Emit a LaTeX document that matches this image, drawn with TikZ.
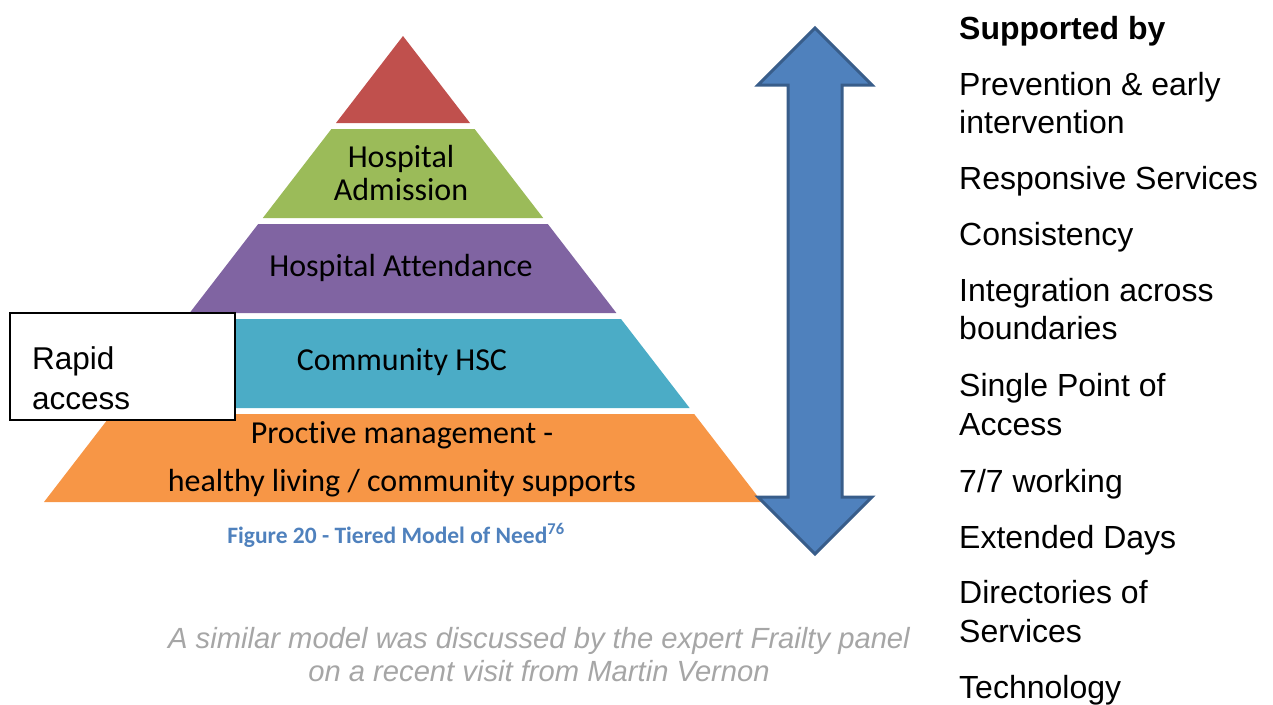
\documentclass[tikz,border=0pt]{standalone}
\usepackage{fontspec}
\setmainfont{Liberation Sans}
\newfontfamily\calibri[Ligatures=NoCommon]{Carlito}
\definecolor{tred}{HTML}{C0504D}
\definecolor{tgreen}{HTML}{9BBB59}
\definecolor{tpurple}{HTML}{8064A2}
\definecolor{tteal}{HTML}{4BACC6}
\definecolor{torange}{HTML}{F79646}
\definecolor{arrfill}{HTML}{4F81BD}
\definecolor{arrline}{HTML}{385D8A}
\definecolor{capblue}{HTML}{4F81BD}
\definecolor{notegray}{HTML}{A6A6A6}
\begin{document}
\begin{tikzpicture}[x=1pt,y=-1pt,
  tiertext/.style={font=\calibri\fontsize{32}{33}\selectfont, text=black, inner sep=0pt, align=center},
  sidetext/.style={font=\fontsize{32}{38}\selectfont, anchor=base west, inner sep=0pt},
  boxtext/.style={font=\fontsize{31.5}{40}\selectfont, anchor=base west, inner sep=0pt}]
\useasboundingbox (0,0) rectangle (1273,704);
% pyramid tiers
\fill[tred] (403,36) -- (470,123) -- (336,123) -- cycle;
\fill[tgreen] (331.4,129) -- (474.6,129) -- (543.2,218) -- (262.8,218) -- cycle;
\fill[tpurple] (258.2,224) -- (547.8,224) -- (616.4,313) -- (189.6,313) -- cycle;
\fill[tteal] (185,319) -- (621,319) -- (689.6,408) -- (116.4,408) -- cycle;
\fill[torange] (111.8,414) -- (694.2,414) -- (762,502) -- (44,502) -- cycle;
% tier labels
\node[tiertext] (adm) at (401,173) {Hospital\\Admission};
\node[tiertext] (att) at (401,268) {Hospital Attendance};
\node[tiertext] (hsc) at (402,362) {Community HSC};
\node[tiertext] (pro) at (402,435) {Proctive management -};
\node[tiertext] (liv) at (402,483) {healthy living / community supports};
% rapid access box
\node[draw=black, line width=1.5pt, fill=white, minimum width=225pt, minimum height=107pt, inner sep=0pt] (rapid) at (122.5,366.5) {};
\node[boxtext] (rapid1) at (32,369) {Rapid};
\node[boxtext] (rapid2) at (32,409) {access};
% caption
\node[font=\calibri\bfseries\fontsize{23.5}{26}\selectfont, text=capblue, inner sep=0pt] (cap) at (396,535) {Figure 20 - Tiered Model of Need\textsuperscript{76}};
% double arrow
\draw[arrline, line width=3pt, fill=arrfill, line join=miter]
  (815,28) -- (872,85) -- (842,85) -- (842,497) -- (872,497) -- (815,554)
  -- (758,497) -- (788,497) -- (788,85) -- (758,85) -- cycle;
% right column
\node[sidetext, font=\bfseries\fontsize{32}{38}\selectfont] (sup) at (959,39) {Supported by};
\node[sidetext] (s1a) at (959,95) {Prevention \& early};
\node[sidetext] (s1b) at (959,133) {intervention};
\node[sidetext] (s2) at (959,189) {Responsive Services};
\node[sidetext] (s3) at (959,245) {Consistency};
\node[sidetext] (s4a) at (959,301) {Integration across};
\node[sidetext] (s4b) at (959,339) {boundaries};
\node[sidetext] (s5a) at (959,396) {Single Point of};
\node[sidetext] (s5b) at (959,435) {Access};
\node[sidetext] (s6) at (959,492) {7/7 working};
\node[sidetext] (s7) at (959,548) {Extended Days};
\node[sidetext] (s8a) at (959,603) {Directories of};
\node[sidetext] (s8b) at (959,642) {Services};
\node[sidetext] (s9) at (959,698) {Technology};
% note
\node[font=\itshape\fontsize{29.2}{33}\selectfont, text=notegray, align=center, inner sep=0pt] (note) at (539,655) {A similar model was discussed by the expert Frailty panel\\on a recent visit from Martin Vernon};
\end{tikzpicture}
\end{document}
